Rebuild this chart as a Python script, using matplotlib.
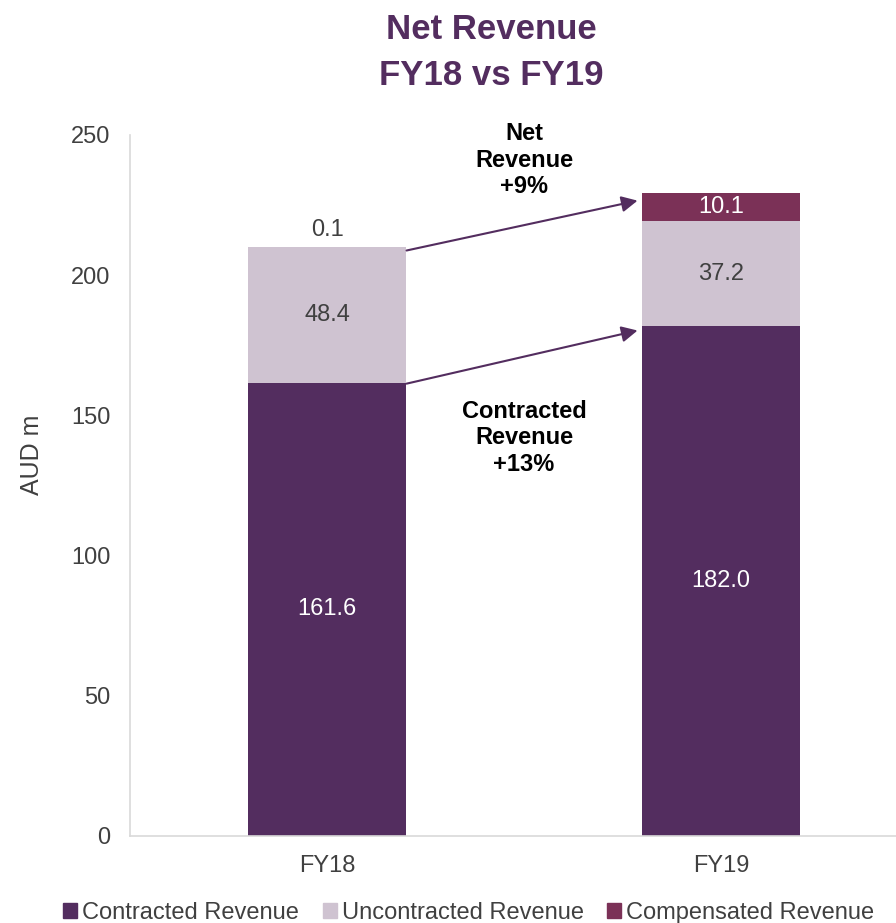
import numpy as np
import matplotlib.pyplot as plt
from matplotlib.patches import Patch

plt.rcParams['font.family'] = ['Liberation Sans', 'DejaVu Sans']

years = ["FY18", "FY19"]
contracted = [161.6, 182.0]
uncontracted = [48.4, 37.2]
compensated = [0.1, 10.1]

c_con = "#532D5F"
c_unc = "#CFC3D1"
c_com = "#7B3157"

fig = plt.figure(figsize=(8.96, 9.23), dpi=100)
ax = fig.add_axes([130/896, 87/923, 766/896, 701/923])

x = np.arange(len(years))
w = 0.4
con = np.array(contracted)
unc = np.array(uncontracted)
com = np.array(compensated)

ax.bar(x, con, w, color=c_con)
ax.bar(x, unc, w, bottom=con, color=c_unc)
ax.bar(x, com, w, bottom=con + unc, color=c_com)

fs = 17
for i in range(len(years)):
    ax.text(x[i], con[i] / 2, f"{con[i]:.1f}", ha="center", va="center", color="white", fontsize=fs)
    ax.text(x[i], con[i] + unc[i] / 2, f"{unc[i]:.1f}", ha="center", va="center", color="#404040", fontsize=fs)
    top = con[i] + unc[i] + com[i]
    if com[i] < 3:
        ax.text(x[i], top + 2, f"{com[i]:.1f}", ha="center", va="bottom", color="#404040", fontsize=fs)
    else:
        ax.text(x[i], con[i] + unc[i] + com[i] / 2, f"{com[i]:.1f}", ha="center", va="center", color="white", fontsize=fs)

# growth arrows
tot = con + unc + com
ax.annotate("", xy=(x[1] - w / 2 - 0.005, tot[1] - 2.5), xytext=(x[0] + w / 2 - 0.005, tot[0] - 1.5),
            arrowprops=dict(arrowstyle="-|>", color=c_con, lw=1.5, mutation_scale=24))
ax.annotate("", xy=(x[1] - w / 2 - 0.005, con[1] - 1.5), xytext=(x[0] + w / 2 - 0.005, con[0] - 0.5),
            arrowprops=dict(arrowstyle="-|>", color=c_con, lw=1.5, mutation_scale=24))

net_growth = tot[1] / tot[0] - 1
con_growth = con[1] / con[0] - 1
ax.text(0.5, 241, f"Net\nRevenue\n+{net_growth*100:.0f}%", ha="center", va="center",
        fontsize=fs, fontweight="bold", linespacing=1.2)
ax.text(0.5, 142, f"Contracted\nRevenue\n+{con_growth*100:.0f}%", ha="center", va="center",
        fontsize=fs, fontweight="bold", linespacing=1.2)

ax.set_xlim(-0.5, 1.444)
ax.set_ylim(0, 250)
ax.set_yticks(np.arange(0, 251, 50))
ax.set_xticks(x)
ax.set_xticklabels(years)
ax.tick_params(length=0, labelsize=fs, labelcolor="#404040")
ax.tick_params(axis="y", pad=14)
ax.tick_params(axis="x", pad=14)
for s in ["top", "right"]:
    ax.spines[s].set_visible(False)
for s in ["left", "bottom"]:
    ax.spines[s].set_color("#D9D9D9")
    ax.spines[s].set_linewidth(1.2)

fig.text(32/896, 1 - 455/923, "AUD m", rotation=90, ha="center", va="center",
         fontsize=18, color="#404040")

fig.text(0.548, 0.986, "Net Revenue\nFY18 vs FY19", ha="center", va="top",
         fontsize=25, fontweight="bold", color=c_con, linespacing=1.5)

handles = [Patch(color=c_con, label="Contracted Revenue"),
           Patch(color=c_unc, label="Uncontracted Revenue"),
           Patch(color=c_com, label="Compensated Revenue")]
fig.legend(handles=handles, loc="lower left", bbox_to_anchor=(42/896, -0.024), ncol=3,
           frameon=False, fontsize=fs, handlelength=0.6, handleheight=0.6,
           handletextpad=0.2, columnspacing=1.0, labelcolor="#404040")

fig.savefig("out.png", dpi=100)
